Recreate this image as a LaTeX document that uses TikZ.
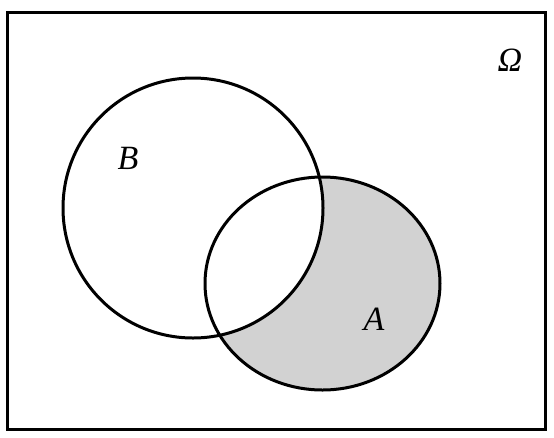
\documentclass[tikz,border=0pt]{standalone}
\usepackage{fontspec}
\setmainfont{Liberation Serif}
\begin{document}
\begin{tikzpicture}[x=1pt,y=-1pt,
  outline/.style={line width=3pt,draw=black},
  lbl/.style={font=\fontsize{34}{38}\selectfont\itshape,inner sep=0pt}]
\useasboundingbox (0,0) rectangle (554,437);
\fill[white] (0,0) rectangle (554,437);
\fill[gray!35] (322.5,283.5) ellipse [x radius=117.5, y radius=106.5];
\fill[white] (193,208) circle [radius=130];
\draw[outline] (322.5,283.5) ellipse [x radius=117.5, y radius=106.5];
\draw[outline] (193,208) circle [radius=130];
\draw[outline] (7.5,12.5) rectangle (545.5,429.5);
\node[lbl] (omega) at (510,60) {Ω};
\node[lbl] (b) at (128,158) {B};
\node[lbl] (a) at (374,319) {A};
\end{tikzpicture}
\end{document}
